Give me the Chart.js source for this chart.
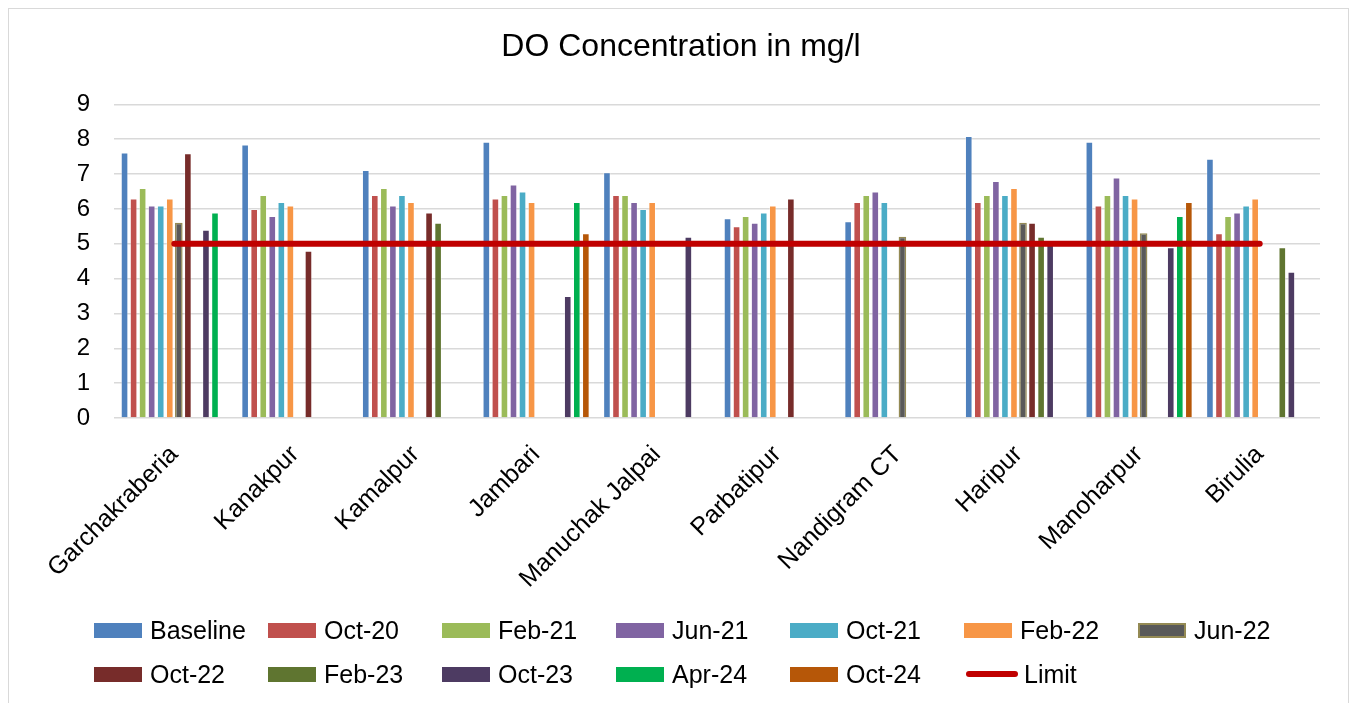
<!DOCTYPE html>
<html>
<head>
<meta charset="utf-8">
<script src="https://cdn.jsdelivr.net/npm/chart.js@4"></script>
<style>
    body { margin: 0; background: #fff; font-family: 'Liberation Sans', Arial, sans-serif; }
    .frame { position: absolute; left: 8px; top: 8px; width: 1339px; height: 720px; border: 1px solid #D9D9D9; }
    .wrap { position: absolute; left: 0; top: 0; width: 1356px; height: 703px; }
    .legend { position: absolute; left: 94px; top: 608px; display: grid; grid-template-columns: repeat(7, 174px); grid-auto-rows: 44px; }
    .legend__item { display: flex; align-items: center; font-size: 25px; color: #000; white-space: nowrap; }
    .legend__box { width: 48px; height: 15px; margin-right: 8px; box-sizing: border-box; }
    .legend__line { width: 52px; height: 6px; border-radius: 3px; margin: 0 6px 0 2px; }
</style>
</head>
<body>
<div class="frame"></div>
<div class="wrap"><canvas id="myChart"></canvas></div>
<div class="legend" id="legend"></div>
<script>
// DATOS
const categories = ['Garchakraberia', 'Kanakpur', 'Kamalpur', 'Jambari', 'Manuchak Jalpai', 'Parbatipur', 'Nandigram CT', 'Haripur', 'Manoharpur', 'Birulia']
const yTicks = [0, 1, 2, 3, 4, 5, 6, 7, 8, 9]

const baseline = [7.62, 7.85, 7.12, 7.93, 7.05, 5.73, 5.65, 8.09, 7.93, 7.44]
const oct20 = [6.3, 6.0, 6.4, 6.3, 6.4, 5.5, 6.2, 6.2, 6.1, 5.3]
const feb21 = [6.6, 6.4, 6.6, 6.4, 6.4, 5.8, 6.4, 6.4, 6.4, 5.8]
const jun21 = [6.1, 5.8, 6.1, 6.7, 6.2, 5.6, 6.5, 6.8, 6.9, 5.9]
const oct21 = [6.1, 6.2, 6.4, 6.5, 6.0, 5.9, 6.2, 6.4, 6.4, 6.1]
const feb22 = [6.3, 6.1, 6.2, 6.2, 6.2, 6.1, null, 6.6, 6.3, 6.3]
const jun22 = [5.6, null, null, null, null, null, 5.2, 5.6, 5.3, null]
const oct22 = [7.6, 4.8, 5.9, null, null, 6.3, null, 5.6, null, null]
const feb23 = [null, null, 5.6, null, null, null, null, 5.2, null, 4.9]
const oct23 = [5.4, null, null, 3.5, 5.2, null, null, 5.1, 4.9, 4.2]
const apr24 = [5.9, null, null, 6.2, null, null, null, null, 5.8, null]
const oct24 = [null, null, null, 5.3, null, null, null, null, 6.2, null]
const limit = [5, 5, 5, 5, 5, 5, 5, 5, 5, 5]

// Series de barras: nombre, datos, relleno, borde
const barSeries = [
    ['Baseline', baseline, '#4F81BD', null],
    ['Oct-20', oct20, '#C0504D', null],
    ['Feb-21', feb21, '#9BBB59', null],
    ['Jun-21', jun21, '#8064A2', null],
    ['Oct-21', oct21, '#4BACC6', null],
    ['Feb-22', feb22, '#F79646', null],
    ['Jun-22', jun22, '#595959', '#948A54'],
    ['Oct-22', oct22, '#772C2A', null],
    ['Feb-23', feb23, '#5F7530', null],
    ['Oct-23', oct23, '#4D3B62', null],
    ['Apr-24', apr24, '#00B050', null],
    ['Oct-24', oct24, '#B65708', null],
]
const limitColor = '#C00000'

const ctx = document.getElementById('myChart')
const font = 'Liberation Sans'

const datasets = barSeries.map(([label, data, color, border]) => ({
    type: 'bar',
    label: label,
    data: data,
    backgroundColor: color,
    borderColor: border || 'rgba(255,255,255,0.35)',
    borderWidth: border ? 1.5 : 1,
    categoryPercentage: 0.9,
    barPercentage: 0.84,
    order: 1,
}))

datasets.push({
    type: 'line',
    label: 'Limit',
    data: limit,
    borderColor: limitColor,
    backgroundColor: limitColor,
    borderWidth: 6,
    borderCapStyle: 'round',
    pointRadius: 0,
    order: 0,
})

// eslint-disable-next-line no-new, no-undef
new Chart(ctx, {
    type: 'bar',
    data: {
        labels: categories,
        datasets: datasets,
    },
    options: {
        responsive: true,
        maintainAspectRatio: false,
        animation: false,
        layout: {
            padding: { left: 42, right: 36, top: 0, bottom: 0 },
        },
        plugins: {
            legend: { display: false },
            tooltip: { enabled: false },
            title: {
                display: true,
                text: 'DO Concentration in mg/l',
                color: '#000',
                font: { family: font, size: 32, weight: 'normal' },
                padding: { top: 28, bottom: 38 },
            },
        },
        scales: {
            x: {
                grid: { display: false },
                border: { display: false },
                ticks: {
                    color: '#000',
                    font: { family: font, size: 25 },
                    minRotation: 45,
                    maxRotation: 45,
                    autoSkip: false,
                    padding: 14,
                },
                afterFit: scale => { scale.height = 285 },
            },
            y: {
                min: 0,
                max: 9,
                afterBuildTicks: scale => { scale.ticks = yTicks.map(v => ({ value: v })) },
                grid: { color: '#D9D9D9', lineWidth: 1.5, drawTicks: false },
                border: { display: false },
                ticks: {
                    color: '#000',
                    font: { family: font, size: 24 },
                    padding: 24,
                },
                afterFit: scale => { scale.width = 72 },
            },
        },
    },
})

// Leyenda en HTML con columnas fijas
const legend = document.getElementById('legend')
barSeries.forEach(([label, , color, border]) => {
    const item = document.createElement('div')
    item.className = 'legend__item'
    const box = document.createElement('span')
    box.className = 'legend__box'
    box.style.background = color
    if (border) box.style.border = `2px solid ${border}`
    item.appendChild(box)
    item.appendChild(document.createTextNode(label))
    legend.appendChild(item)
})
const limitItem = document.createElement('div')
limitItem.className = 'legend__item'
const line = document.createElement('span')
line.className = 'legend__line'
line.style.background = limitColor
limitItem.appendChild(line)
limitItem.appendChild(document.createTextNode('Limit'))
legend.appendChild(limitItem)
</script>
</body>
</html>
